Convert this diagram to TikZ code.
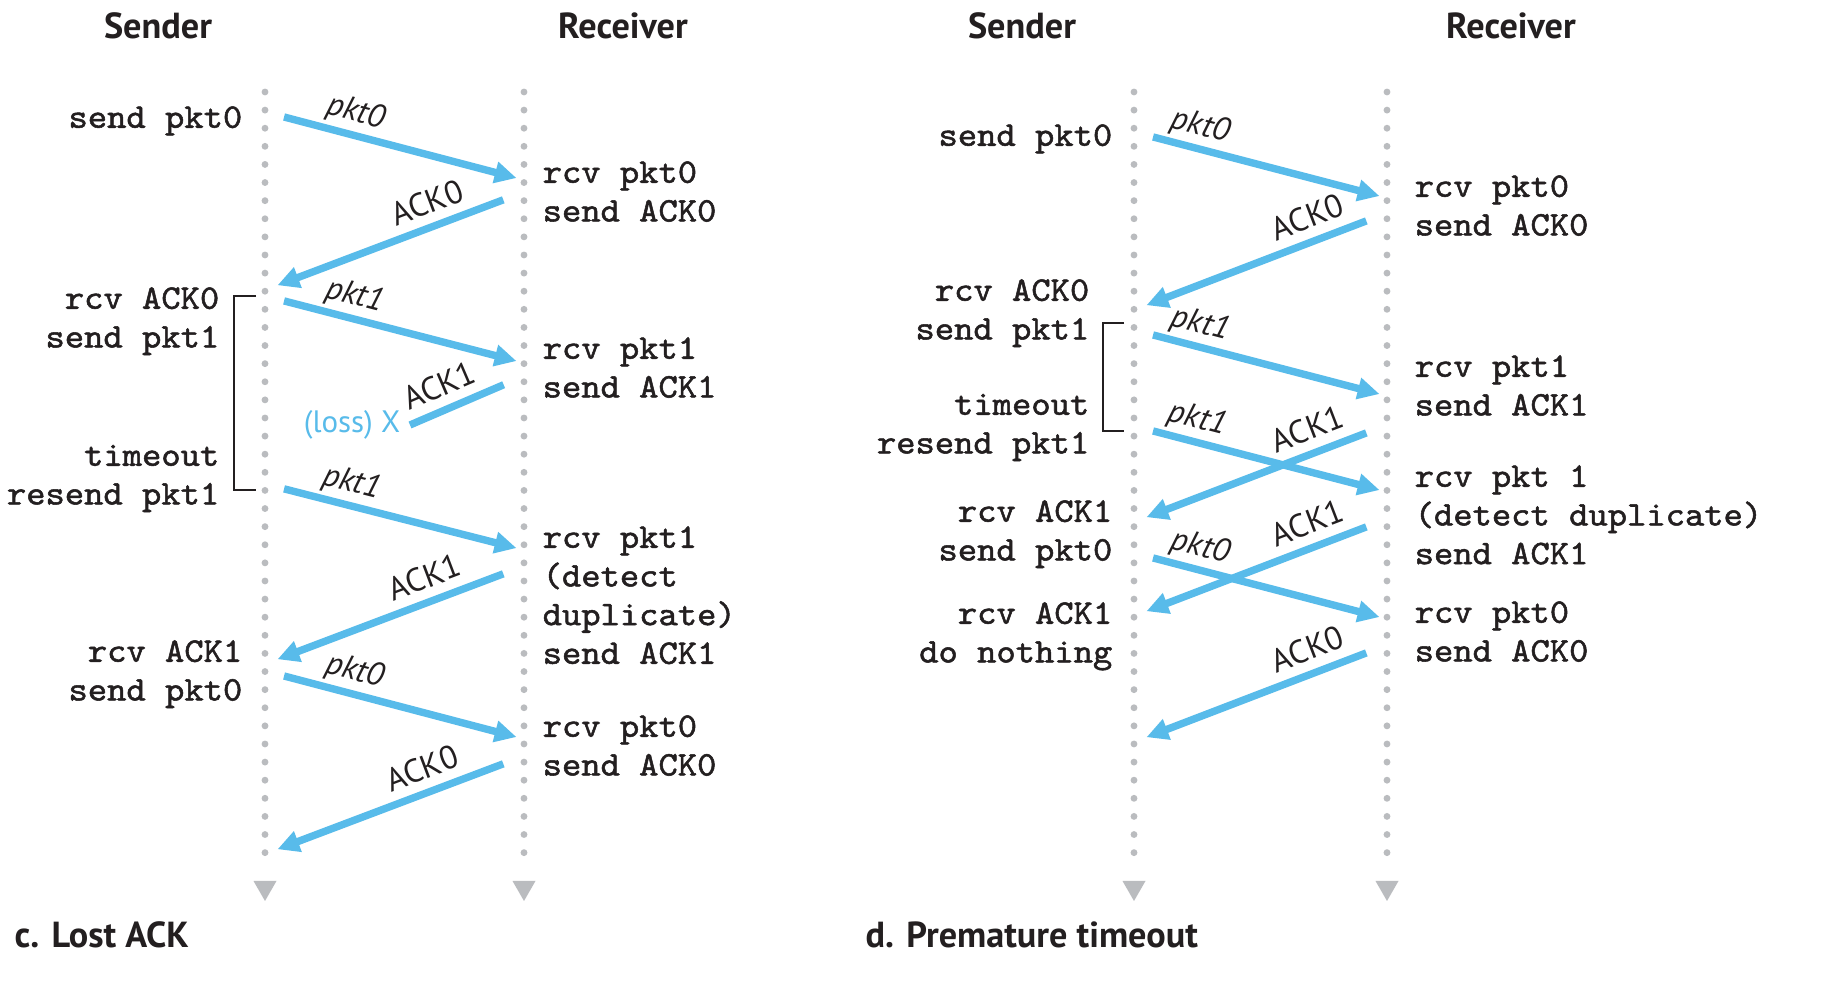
\documentclass[tikz,border=0pt]{standalone}
\usepackage{fontspec}
\setmainfont{PT Sans}
\setmonofont[FakeStretch=1.067, FakeBold=1.5]{lmmono10-regular.otf}
\usepackage{tikz}
\usetikzlibrary{arrows.meta, positioning, calc}
\definecolor{msgblue}{RGB}{88,187,234}
\definecolor{lifegray}{RGB}{186,188,191}
\definecolor{inkblack}{RGB}{35,31,32}
\tikzset{
  lifeline/.style={draw=lifegray, line width=1.95pt, line cap=round, dash pattern=on 0pt off 5.15pt},
  lifeend/.style={fill=lifegray},
  msg/.style={draw=msgblue, line width=2.1pt, -{Triangle[length=6.2pt, width=5.9pt]}},
  pktmsg/.style={msg, shorten <=5.6pt, shorten >=2.2pt},
  ackmsg/.style={msg, shorten <=6.3pt, shorten >=3.8pt},
  lostmsg/.style={draw=msgblue, line width=2.1pt, shorten <=6.3pt},
  pktlabel/.style={font=\fontsize{9.3}{10}\selectfont\itshape, text=inkblack, sloped, above, inner sep=1pt},
  acklabel/.style={font=\fontsize{9.3}{10}\selectfont, text=inkblack, sloped, above=1.6pt, inner sep=1pt},
  losslabel/.style={font=\fontsize{8.8}{10}\selectfont, text=msgblue, inner sep=0pt},
  evt/.style={font=\fontsize{9.8}{11}\selectfont\ttfamily, text=inkblack, inner sep=0pt},
  sndevt/.style={evt, anchor=north east, align=right},
  rcvevt/.style={evt, anchor=north west, align=left},
  head/.style={font=\fontsize{10.3}{12}\selectfont\bfseries, text=inkblack, anchor=base, inner sep=0pt},
  caption/.style={head, anchor=base west},
  bracket/.style={draw=inkblack, line width=0.5pt},
}
\begin{document}
\begin{tikzpicture}[x=0.01cm, y=-0.01cm]
  \path[fill=white] (0,0) rectangle (1826,998);

  %% c. Lost ACK
  \node[head] (lsHead) at (158,39) {Sender};
  \node[head] (lrHead) at (623,39) {Receiver};

  \coordinate (lsTop) at (265,92);
  \coordinate (lsBot) at (265,870);
  \coordinate (lrTop) at (524,92);
  \coordinate (lrBot) at (524,870);
  \draw[lifeline] (lsTop) -- (lsBot);
  \draw[lifeline] (lrTop) -- (lrBot);
  \fill[lifeend] ($(lsBot)+(-11.5,11)$) -- ++(23,0) -- ++(-11.5,20) -- cycle;
  \fill[lifeend] ($(lrBot)+(-11.5,11)$) -- ++(23,0) -- ++(-11.5,20) -- cycle;

  \node[sndevt] (lsE1) at (243,100) {\strut send pkt0};
  \node[sndevt] (lsE2) at (220,281) {\strut rcv ACK0\\send pkt1};
  \node[sndevt] (lsE3) at (220,438) {\strut timeout\\resend pkt1};
  \node[sndevt] (lsE4) at (243,634) {\strut rcv ACK1\\send pkt0};

  \node[rcvevt] (lrE1) at (542,155) {\strut rcv pkt0\\send ACK0};
  \node[rcvevt] (lrE2) at (542,331) {\strut rcv pkt1\\send ACK1};
  \node[rcvevt] (lrE3) at (542,520) {\strut rcv pkt1\\(detect\\duplicate)\\send ACK1};
  \node[rcvevt] (lrE4) at (542,709) {\strut rcv pkt0\\send ACK0};

  \coordinate (lBrTop) at (256,296);
  \coordinate (lBrBot) at (256,490);
  \draw[bracket] (lBrTop) -- ++(-22,0) |- (lBrBot);

  \coordinate (lS1) at (265,112);  \coordinate (lR1) at (524,180);
  \coordinate (lR2) at (524,192);  \coordinate (lS2) at (265,290);
  \coordinate (lS3) at (265,296);  \coordinate (lR3) at (524,363);
  \coordinate (lR4) at (524,376);  \coordinate (lossX) at (410,425);
  \coordinate (lS5) at (265,484);  \coordinate (lR5) at (524,550);
  \coordinate (lR6) at (524,566);  \coordinate (lS6) at (265,664);
  \coordinate (lS7) at (265,671);  \coordinate (lR7) at (524,739);
  \coordinate (lR8) at (524,756);  \coordinate (lS8) at (265,854);

  \draw[pktmsg] (lS1) -- node[pktlabel, pos=0.33] (lL1) {pkt0} (lR1);
  \draw[ackmsg] (lR2) -- node[acklabel, pos=0.34] (lL2) {ACK0} (lS2);
  \draw[pktmsg] (lS3) -- node[pktlabel, pos=0.325] (lL3) {pkt1} (lR3);
  \draw[lostmsg] (lR4) -- node[acklabel, pos=0.66] (lL4) {ACK1} (lossX);
  \node[losslabel, left=0.09cm of lossX] (lossTxt) {(loss) X};
  \draw[pktmsg] (lS5) -- node[pktlabel, pos=0.315] (lL5) {pkt1} (lR5);
  \draw[ackmsg] (lR6) -- node[acklabel, pos=0.35] (lL6) {ACK1} (lS6);
  \draw[pktmsg] (lS7) -- node[pktlabel, pos=0.325] (lL7) {pkt0} (lR7);
  \draw[ackmsg] (lR8) -- node[acklabel, pos=0.36] (lL8) {ACK0} (lS8);

  \node[caption] (capC) at (14,948) {c. Lost ACK};

  %% d. Premature timeout
  \node[head] (rsHead) at (1022,39) {Sender};
  \node[head] (rrHead) at (1511,39) {Receiver};

  \coordinate (rsTop) at (1134,92);
  \coordinate (rsBot) at (1134,870);
  \coordinate (rrTop) at (1387,92);
  \coordinate (rrBot) at (1387,870);
  \draw[lifeline] (rsTop) -- (rsBot);
  \draw[lifeline] (rrTop) -- (rrBot);
  \fill[lifeend] ($(rsBot)+(-11.5,11)$) -- ++(23,0) -- ++(-11.5,20) -- cycle;
  \fill[lifeend] ($(rrBot)+(-11.5,11)$) -- ++(23,0) -- ++(-11.5,20) -- cycle;

  \node[sndevt] (rsE1) at (1113,118) {\strut send pkt0};
  \node[sndevt] (rsE2) at (1090,273) {\strut rcv ACK0\\send pkt1};
  \node[sndevt] (rsE3) at (1090,387) {\strut timeout\\resend pkt1};
  \node[sndevt] (rsE4) at (1113,494) {\strut rcv ACK1\\send pkt0};
  \node[sndevt] (rsE5) at (1113,596) {\strut rcv ACK1\\do nothing};

  \node[rcvevt] (rrE1) at (1414,169) {\strut rcv pkt0\\send ACK0};
  \node[rcvevt] (rrE2) at (1414,349) {\strut rcv pkt1\\send ACK1};
  \node[rcvevt] (rrE3) at (1414,459) {\strut rcv pkt 1\\(detect duplicate)\\send ACK1};
  \node[rcvevt] (rrE4) at (1414,595) {\strut rcv pkt0\\send ACK0};

  \coordinate (rBrTop) at (1124,323);
  \coordinate (rBrBot) at (1124,431);
  \draw[bracket] (rBrTop) -- ++(-21,0) |- (rBrBot);

  \coordinate (rS1) at (1134,132);  \coordinate (rR1) at (1387,198);
  \coordinate (rR2) at (1387,213);  \coordinate (rS2) at (1134,310);
  \coordinate (rS3) at (1134,330);  \coordinate (rR3) at (1387,396);
  \coordinate (rS4) at (1134,426);  \coordinate (rR4) at (1387,492);
  \coordinate (rR5) at (1387,425);  \coordinate (rS5) at (1134,522);
  \coordinate (rS6) at (1134,553);  \coordinate (rR6) at (1387,619);
  \coordinate (rR7) at (1387,519);  \coordinate (rS7) at (1134,616);
  \coordinate (rR8) at (1387,645);  \coordinate (rS8) at (1134,742);

  \draw[pktmsg] (rS1) -- node[pktlabel, pos=0.24] (rL1) {pkt0} (rR1);
  \draw[ackmsg] (rR2) -- node[acklabel, pos=0.28] (rL2) {ACK0} (rS2);
  \draw[pktmsg] (rS3) -- node[pktlabel, pos=0.24] (rL3) {pkt1} (rR3);
  \draw[pktmsg] (rS4) -- node[pktlabel, pos=0.228] (rL4) {pkt1} (rR4);
  \draw[ackmsg] (rR5) -- node[acklabel, pos=0.28] (rL5) {ACK1} (rS5);
  \draw[pktmsg] (rS6) -- node[pktlabel, pos=0.24] (rL6) {pkt0} (rR6);
  \draw[ackmsg] (rR7) -- node[acklabel, pos=0.28] (rL7) {ACK1} (rS7);
  \draw[ackmsg] (rR8) -- node[acklabel, pos=0.28] (rL8) {ACK0} (rS8);

  \node[caption] (capD) at (865,948) {d. Premature timeout};

\end{tikzpicture}
\end{document}
